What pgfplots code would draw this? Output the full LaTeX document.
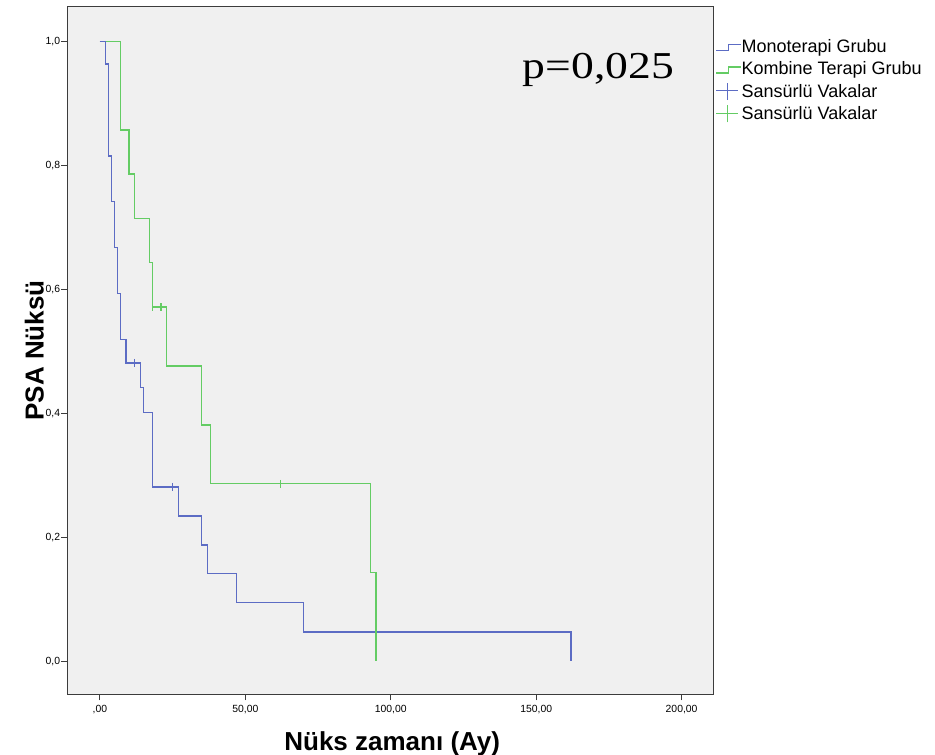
\documentclass[border=0pt]{standalone}
\usepackage{fontspec}
\usepackage{pgfplots}
\pgfplotsset{compat=1.18}
\setmainfont{Liberation Sans}
\newfontfamily\pfont[FakeStretch=1.2]{Liberation Serif}
\definecolor{kmblue}{RGB}{92,108,196}
\definecolor{kmgreen}{RGB}{100,204,100}
\definecolor{bgc}{RGB}{240,240,240}
\definecolor{axc}{RGB}{60,60,60}
\begin{document}
\begin{tikzpicture}[x=1pt,y=1pt]
\useasboundingbox (0,0) rectangle (935,755);
\begin{axis}[
  at={(67.3pt,60.5pt)}, anchor=south west,
  scale only axis, width=646pt, height=688pt,
  xmin=-11.2, xmax=210.9, ymin=-0.054, ymax=1.056,
  axis background/.style={fill=bgc},
  axis line style={axc, line width=1pt},
  tick style={axc, line width=1pt},
  tick align=outside, tick pos=left, major tick length=6pt,
  xtick={0,50,100,150,200},
  xticklabels={{,00},{50,00},{100,00},{150,00},{200,00}},
  ytick={0,0.2,0.4,0.6,0.8,1.0},
  yticklabels={{0,0},{0,2},{0,4},{0,6},{0,8},{1,0}},
  ticklabel style={font=\fontsize{10.4}{12}\selectfont, inner sep=0pt, text height=7.5pt, text depth=0pt},
  xticklabel style={anchor=north, yshift=-4.5pt},
  yticklabel style={anchor=east, xshift=-1pt},
  xlabel={Nüks zamanı (Ay)},
  ylabel={PSA Nüksü},
  label style={font=\bfseries\fontsize{26}{30}\selectfont, inner sep=0pt},
  xlabel style={at={(axis description cs:0.503,-0.0821)}, anchor=base},
  ylabel style={at={(axis description cs:-0.0368,0.5)}, anchor=base},
  legend style={at={(1,1)}, anchor=north west, yshift=-30.7pt, draw=none, fill=none,
    inner sep=0pt, outer sep=0pt, font=\fontsize{18}{21}\selectfont,
    row sep=3pt, column sep=0pt,
    nodes={inner sep=0pt, text height=15pt, text depth=4.5pt}},
  legend cell align=left,
]
\addplot[kmblue, line width=1.4pt, const plot mark left,
  legend image code/.code={\path[draw=none] (0pt,0pt) -- (27.7pt,0pt);
    \draw[kmblue, line width=1.3pt] (3pt,-3.55pt) -- (15pt,-3.55pt) -- (15pt,2.45pt) -- (27.7pt,2.45pt);}]
  coordinates {(0,1.0) (2,0.963) (3,0.815) (4,0.741) (5,0.667) (6,0.593) (7,0.519) (9,0.481)
   (14,0.441) (15,0.401) (18,0.281) (27,0.234) (35,0.187) (37,0.141) (47,0.094) (70,0.047) (162,0)};
\addlegendentry{Monoterapi Grubu}
\addplot[kmgreen, line width=1.4pt, const plot mark left,
  legend image code/.code={\path[draw=none] (0pt,0pt) -- (27.7pt,0pt);
    \draw[kmgreen, line width=1.3pt] (3pt,-3.55pt) -- (15pt,-3.55pt) -- (15pt,2.45pt) -- (27.7pt,2.45pt);}]
  coordinates {(0,1.0) (7,0.857) (10,0.786) (12,0.714) (17,0.643) (18,0.571) (23,0.476)
   (35,0.381) (38,0.286) (93,0.143) (95,0)};
\addlegendentry{Kombine Terapi Grubu}
\addplot[kmblue, only marks, mark=|, mark size=4pt, mark options={line width=1.4pt},
  legend image code/.code={\path[draw=none] (0pt,0pt) -- (27.7pt,0pt);
    \draw[kmblue, line width=1.3pt] (3pt,1.25pt) -- (25pt,1.25pt) (14pt,-7.75pt) -- (14pt,9.25pt);}]
  coordinates {(12,0.481) (25,0.281)};
\addlegendentry{Sansürlü Vakalar}
\addplot[kmgreen, only marks, mark=|, mark size=4pt, mark options={line width=1.4pt},
  legend image code/.code={\path[draw=none] (0pt,0pt) -- (27.7pt,0pt);
    \draw[kmgreen, line width=1.3pt] (3pt,1.25pt) -- (25pt,1.25pt) (14pt,-7.75pt) -- (14pt,9.25pt);}]
  coordinates {(18,0.571) (21,0.571) (62,0.286)};
\addlegendentry{Sansürlü Vakalar}
\addplot[kmblue, line width=1.4pt, const plot mark left, forget plot]
  coordinates {(0,1.0) (2,0.963) (3,0.815)};
\node[anchor=base west, inner sep=0pt, font=\pfont\fontsize{38}{40}\selectfont]
  at (rel axis cs:0.705,0.896) {p=0,025};
\end{axis}
\end{tikzpicture}
\end{document}
